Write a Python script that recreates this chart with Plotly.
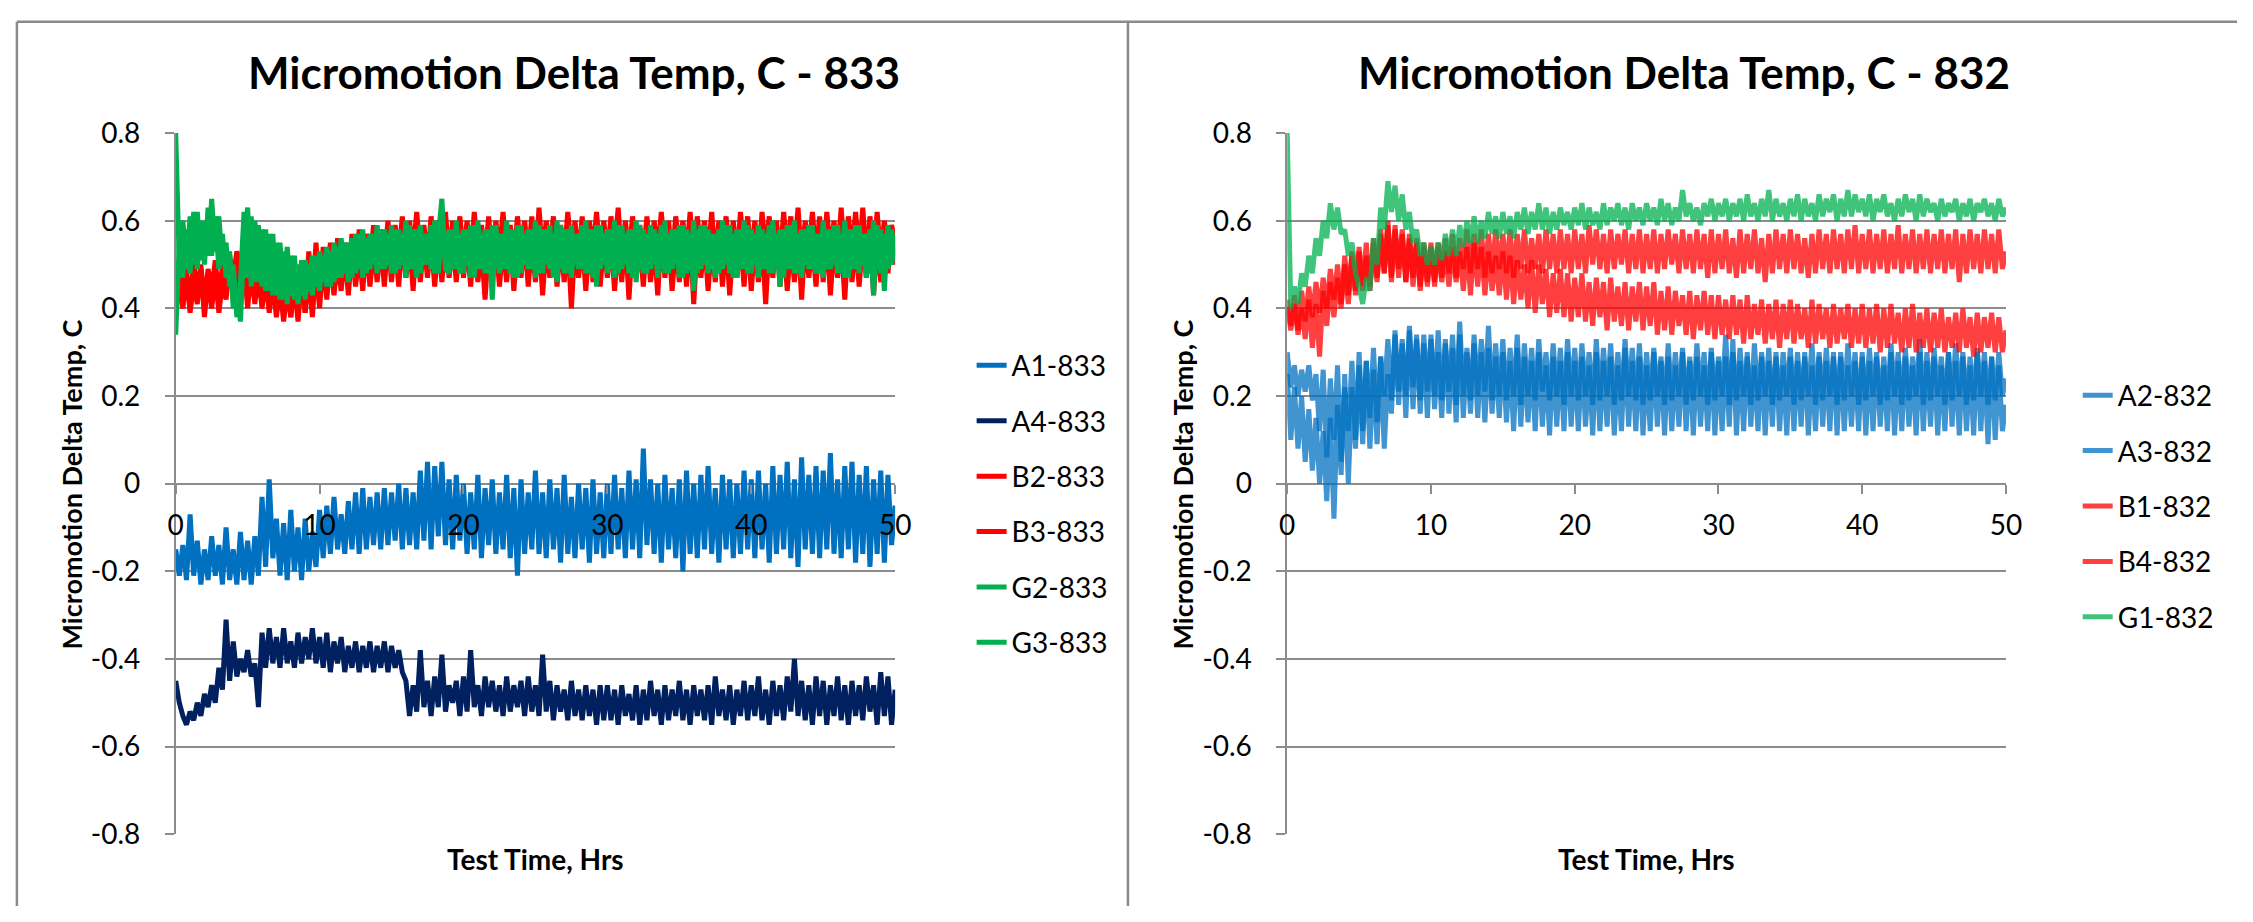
import plotly.graph_objects as go

W, H = 2253, 922

# ---------------- data ----------------
time_hrs = [i * 0.25 for i in range(201)]  # 0 .. 50 hrs, 0.25 h sampling

a1_833 = [
    -0.15,-0.21,-0.14,-0.22,-0.07,-0.21,-0.13,-0.23,-0.15,-0.22,-0.12,-0.21,-0.14,-0.23,-0.10,-0.22,-0.15,-0.23,-0.11,-0.22,
    -0.13,-0.23,-0.12,-0.21,-0.03,-0.19,0.01,-0.17,-0.08,-0.21,-0.09,-0.22,-0.06,-0.20,-0.10,-0.22,-0.08,-0.20,-0.11,-0.19,
    -0.06,-0.17,-0.05,-0.16,-0.03,-0.15,-0.07,-0.16,-0.04,-0.15,-0.02,-0.16,-0.01,-0.15,-0.03,-0.14,-0.02,-0.15,-0.01,-0.14,
    -0.02,-0.13,0.00,-0.15,-0.01,-0.14,-0.02,-0.15,0.03,-0.13,0.05,-0.15,0.04,-0.12,0.05,-0.14,0.01,-0.15,0.02,-0.13,
    0.00,-0.16,-0.02,-0.15,0.02,-0.17,-0.01,-0.14,0.01,-0.16,-0.02,-0.15,0.02,-0.17,-0.01,-0.21,0.01,-0.16,-0.02,-0.15,
    0.03,-0.16,-0.02,-0.17,0.01,-0.15,-0.01,-0.18,0.02,-0.16,-0.03,-0.17,0.00,-0.15,-0.01,-0.18,0.01,-0.16,-0.02,-0.17,
    0.00,-0.16,0.02,-0.15,-0.01,-0.17,0.03,-0.15,0.01,-0.17,0.08,-0.14,0.01,-0.16,0.00,-0.18,0.02,-0.15,-0.01,-0.17,
    0.01,-0.20,0.03,-0.16,0.00,-0.17,0.02,-0.15,0.04,-0.16,-0.01,-0.18,0.02,-0.15,0.01,-0.17,0.00,-0.16,0.03,-0.15,
    0.01,-0.17,0.03,-0.15,0.00,-0.18,0.04,-0.16,0.02,-0.15,0.05,-0.17,0.01,-0.19,0.06,-0.15,0.02,-0.16,0.04,-0.17,
    0.03,-0.15,0.07,-0.16,0.01,-0.17,0.04,-0.15,0.05,-0.18,0.02,-0.16,0.04,-0.19,0.01,-0.16,0.03,-0.18,0.02,-0.14,
    -0.05]

a4_833 = [
    -0.45,-0.50,-0.53,-0.55,-0.52,-0.54,-0.50,-0.53,-0.48,-0.51,-0.46,-0.50,-0.42,-0.47,-0.31,-0.45,-0.36,-0.44,-0.40,-0.43,
    -0.38,-0.44,-0.41,-0.51,-0.34,-0.42,-0.33,-0.41,-0.35,-0.42,-0.33,-0.41,-0.36,-0.42,-0.34,-0.41,-0.35,-0.40,-0.33,-0.41,
    -0.35,-0.42,-0.34,-0.43,-0.36,-0.41,-0.35,-0.43,-0.37,-0.42,-0.36,-0.43,-0.37,-0.42,-0.36,-0.43,-0.37,-0.42,-0.36,-0.43,
    -0.37,-0.42,-0.38,-0.43,-0.45,-0.53,-0.46,-0.52,-0.38,-0.51,-0.45,-0.53,-0.44,-0.51,-0.39,-0.52,-0.46,-0.50,-0.45,-0.53,
    -0.44,-0.52,-0.38,-0.51,-0.46,-0.53,-0.44,-0.51,-0.45,-0.52,-0.46,-0.53,-0.44,-0.52,-0.46,-0.51,-0.45,-0.53,-0.44,-0.52,
    -0.46,-0.53,-0.39,-0.52,-0.45,-0.54,-0.46,-0.52,-0.47,-0.54,-0.45,-0.53,-0.47,-0.54,-0.46,-0.53,-0.47,-0.55,-0.46,-0.54,
    -0.46,-0.54,-0.47,-0.55,-0.46,-0.53,-0.48,-0.54,-0.46,-0.55,-0.47,-0.54,-0.45,-0.53,-0.47,-0.55,-0.46,-0.54,-0.47,-0.53,
    -0.45,-0.54,-0.47,-0.55,-0.46,-0.53,-0.47,-0.54,-0.46,-0.55,-0.44,-0.53,-0.47,-0.54,-0.46,-0.55,-0.47,-0.53,-0.45,-0.54,
    -0.46,-0.53,-0.44,-0.54,-0.47,-0.55,-0.45,-0.53,-0.46,-0.54,-0.44,-0.52,-0.40,-0.53,-0.45,-0.54,-0.46,-0.55,-0.44,-0.53,
    -0.45,-0.55,-0.46,-0.53,-0.44,-0.54,-0.46,-0.55,-0.45,-0.53,-0.46,-0.54,-0.44,-0.52,-0.46,-0.55,-0.43,-0.53,-0.44,-0.55,
    -0.47]

b2_833 = [
    0.40,0.50,0.42,0.49,0.40,0.51,0.43,0.50,0.41,0.49,0.44,0.51,0.42,0.50,0.45,0.52,0.47,0.53,0.50,0.52,
    0.44,0.52,0.42,0.51,0.43,0.50,0.41,0.49,0.40,0.48,0.39,0.47,0.38,0.49,0.40,0.50,0.39,0.53,0.41,0.55,
    0.43,0.54,0.45,0.55,0.44,0.56,0.46,0.55,0.47,0.57,0.48,0.58,0.49,0.57,0.50,0.59,0.50,0.58,0.51,0.60,
    0.51,0.59,0.52,0.61,0.51,0.60,0.53,0.62,0.52,0.59,0.51,0.61,0.53,0.60,0.52,0.62,0.51,0.60,0.53,0.61,
    0.52,0.60,0.51,0.62,0.53,0.59,0.52,0.61,0.51,0.60,0.53,0.62,0.52,0.59,0.51,0.61,0.53,0.60,0.52,0.61,
    0.51,0.63,0.52,0.60,0.53,0.61,0.51,0.59,0.52,0.62,0.53,0.60,0.51,0.61,0.52,0.60,0.53,0.62,0.51,0.60,
    0.52,0.61,0.53,0.63,0.51,0.60,0.52,0.61,0.53,0.59,0.52,0.61,0.51,0.60,0.53,0.62,0.52,0.60,0.51,0.61,
    0.53,0.60,0.52,0.62,0.51,0.61,0.53,0.60,0.52,0.62,0.51,0.60,0.53,0.61,0.52,0.60,0.51,0.62,0.53,0.61,
    0.52,0.60,0.51,0.62,0.53,0.61,0.52,0.60,0.51,0.62,0.53,0.61,0.52,0.63,0.51,0.60,0.53,0.62,0.52,0.61,
    0.51,0.62,0.53,0.60,0.52,0.63,0.51,0.61,0.53,0.62,0.52,0.63,0.51,0.61,0.53,0.62,0.52,0.60,0.53,0.59,
    0.55]

b3_833 = [
    0.38,0.47,0.40,0.48,0.39,0.46,0.41,0.49,0.38,0.47,0.40,0.48,0.39,0.46,0.42,0.50,0.44,0.52,0.42,0.50,
    0.40,0.49,0.41,0.48,0.40,0.47,0.39,0.46,0.38,0.45,0.37,0.44,0.38,0.46,0.37,0.47,0.39,0.48,0.38,0.50,
    0.40,0.51,0.42,0.52,0.43,0.51,0.44,0.53,0.43,0.54,0.45,0.53,0.44,0.55,0.45,0.54,0.46,0.55,0.45,0.56,
    0.46,0.55,0.45,0.56,0.47,0.55,0.44,0.57,0.46,0.55,0.47,0.56,0.45,0.55,0.46,0.57,0.47,0.55,0.46,0.56,
    0.47,0.55,0.45,0.56,0.46,0.54,0.42,0.55,0.47,0.56,0.45,0.55,0.46,0.57,0.44,0.55,0.47,0.56,0.45,0.55,
    0.46,0.56,0.43,0.55,0.47,0.57,0.45,0.55,0.46,0.56,0.40,0.55,0.47,0.56,0.44,0.55,0.46,0.57,0.45,0.55,
    0.47,0.56,0.44,0.55,0.46,0.57,0.42,0.56,0.47,0.55,0.45,0.56,0.46,0.55,0.43,0.57,0.47,0.56,0.44,0.55,
    0.46,0.56,0.45,0.57,0.41,0.55,0.47,0.56,0.44,0.55,0.46,0.57,0.45,0.56,0.43,0.55,0.47,0.56,0.45,0.57,
    0.44,0.55,0.46,0.56,0.41,0.55,0.47,0.57,0.45,0.56,0.44,0.55,0.46,0.57,0.42,0.56,0.47,0.55,0.45,0.56,
    0.46,0.57,0.43,0.55,0.47,0.56,0.42,0.57,0.46,0.55,0.45,0.56,0.47,0.57,0.43,0.56,0.46,0.55,0.48,0.56,
    0.50]

g2_833 = [
    0.80,0.50,0.60,0.49,0.61,0.50,0.62,0.51,0.60,0.52,0.65,0.53,0.61,0.50,0.55,0.45,0.50,0.38,0.46,0.62,
    0.47,0.61,0.46,0.59,0.45,0.58,0.44,0.57,0.43,0.55,0.42,0.54,0.43,0.52,0.41,0.51,0.42,0.50,0.43,0.52,
    0.44,0.52,0.45,0.53,0.46,0.54,0.47,0.55,0.46,0.56,0.48,0.57,0.47,0.56,0.49,0.57,0.48,0.58,0.49,0.57,
    0.48,0.58,0.49,0.57,0.47,0.59,0.49,0.58,0.48,0.57,0.50,0.59,0.48,0.58,0.65,0.49,0.48,0.58,0.49,0.57,
    0.48,0.58,0.47,0.59,0.49,0.57,0.48,0.58,0.42,0.59,0.48,0.57,0.49,0.58,0.47,0.59,0.48,0.57,0.49,0.58,
    0.47,0.59,0.48,0.58,0.49,0.57,0.46,0.59,0.48,0.58,0.47,0.57,0.49,0.59,0.48,0.58,0.47,0.59,0.49,0.57,
    0.48,0.58,0.47,0.59,0.49,0.57,0.48,0.58,0.46,0.59,0.48,0.57,0.49,0.58,0.47,0.59,0.48,0.57,0.49,0.58,
    0.47,0.59,0.48,0.57,0.44,0.58,0.49,0.59,0.48,0.57,0.47,0.58,0.49,0.59,0.48,0.57,0.47,0.58,0.49,0.59,
    0.48,0.57,0.47,0.58,0.49,0.59,0.48,0.57,0.45,0.58,0.49,0.59,0.48,0.57,0.47,0.58,0.49,0.59,0.48,0.57,
    0.47,0.58,0.49,0.59,0.48,0.57,0.47,0.58,0.49,0.59,0.48,0.57,0.47,0.58,0.43,0.59,0.48,0.57,0.49,0.58,
    0.52]

g3_833 = [
    0.34,0.55,0.47,0.58,0.48,0.62,0.49,0.60,0.50,0.63,0.52,0.61,0.49,0.57,0.47,0.53,0.40,0.44,0.37,0.55,
    0.63,0.45,0.60,0.46,0.58,0.44,0.57,0.43,0.55,0.42,0.53,0.41,0.52,0.42,0.50,0.43,0.51,0.44,0.52,0.45,
    0.53,0.46,0.54,0.45,0.55,0.47,0.56,0.48,0.55,0.47,0.57,0.49,0.58,0.48,0.57,0.50,0.59,0.49,0.58,0.50,
    0.59,0.48,0.58,0.50,0.60,0.49,0.58,0.47,0.59,0.50,0.57,0.49,0.60,0.48,0.59,0.50,0.58,0.49,0.60,0.48,
    0.58,0.50,0.59,0.47,0.60,0.49,0.58,0.48,0.59,0.50,0.57,0.49,0.60,0.48,0.58,0.47,0.59,0.50,0.58,0.49,
    0.60,0.48,0.58,0.50,0.59,0.47,0.60,0.49,0.58,0.48,0.59,0.50,0.57,0.49,0.60,0.48,0.58,0.45,0.59,0.50,
    0.58,0.49,0.60,0.48,0.59,0.50,0.58,0.47,0.60,0.49,0.58,0.48,0.59,0.50,0.57,0.49,0.60,0.48,0.58,0.50,
    0.59,0.47,0.58,0.49,0.60,0.48,0.59,0.50,0.58,0.49,0.57,0.48,0.60,0.50,0.59,0.47,0.58,0.49,0.60,0.48,
    0.58,0.50,0.59,0.49,0.57,0.48,0.60,0.50,0.58,0.47,0.59,0.49,0.60,0.48,0.58,0.50,0.59,0.49,0.57,0.48,
    0.60,0.49,0.58,0.50,0.59,0.48,0.60,0.47,0.58,0.49,0.59,0.50,0.57,0.48,0.60,0.49,0.58,0.44,0.59,0.50,
    0.55]

a2_832 = [
    0.30,0.22,0.27,0.20,0.26,0.21,0.27,0.19,0.25,0.12,0.26,0.06,0.24,0.10,0.27,0.05,0.22,0.12,0.28,0.10,
    0.30,0.12,0.28,0.15,0.31,0.14,0.29,0.20,0.33,0.19,0.34,0.21,0.32,0.20,0.35,0.22,0.33,0.19,0.34,0.21,
    0.33,0.20,0.35,0.19,0.32,0.21,0.34,0.18,0.37,0.20,0.31,0.19,0.34,0.20,0.33,0.21,0.36,0.19,0.32,0.20,
    0.33,0.19,0.31,0.20,0.34,0.18,0.32,0.20,0.31,0.19,0.33,0.21,0.30,0.19,0.32,0.20,0.31,0.18,0.33,0.20,
    0.31,0.19,0.32,0.20,0.30,0.18,0.33,0.19,0.31,0.20,0.32,0.18,0.30,0.19,0.33,0.20,0.31,0.19,0.32,0.18,
    0.30,0.19,0.31,0.20,0.29,0.18,0.32,0.19,0.30,0.20,0.31,0.18,0.29,0.19,0.32,0.20,0.30,0.18,0.31,0.19,
    0.29,0.20,0.34,0.18,0.30,0.19,0.31,0.20,0.29,0.18,0.32,0.19,0.30,0.20,0.31,0.18,0.29,0.19,0.30,0.20,
    0.31,0.18,0.30,0.19,0.29,0.20,0.32,0.18,0.30,0.19,0.31,0.20,0.29,0.18,0.30,0.19,0.32,0.20,0.30,0.18,
    0.29,0.19,0.31,0.20,0.30,0.18,0.29,0.19,0.32,0.20,0.30,0.18,0.31,0.19,0.29,0.20,0.33,0.18,0.30,0.19,
    0.31,0.20,0.29,0.18,0.30,0.19,0.32,0.20,0.30,0.18,0.29,0.19,0.31,0.20,0.30,0.18,0.29,0.19,0.30,0.20,
    0.24]

a3_832 = [
    0.25,0.10,0.22,0.08,0.20,0.05,0.17,0.03,0.15,0.00,0.12,-0.04,0.15,-0.08,0.18,0.02,0.25,0.00,0.22,0.08,
    0.27,0.09,0.28,0.08,0.26,0.09,0.29,0.08,0.25,0.16,0.35,0.18,0.33,0.15,0.36,0.17,0.34,0.16,0.32,0.15,
    0.34,0.17,0.30,0.15,0.33,0.16,0.31,0.14,0.34,0.15,0.30,0.16,0.32,0.15,0.30,0.14,0.31,0.16,0.29,0.15,
    0.30,0.14,0.28,0.12,0.31,0.13,0.29,0.14,0.28,0.12,0.30,0.13,0.27,0.11,0.29,0.13,0.28,0.12,0.30,0.13,
    0.28,0.12,0.29,0.13,0.27,0.11,0.30,0.12,0.28,0.13,0.29,0.11,0.27,0.12,0.31,0.13,0.28,0.12,0.29,0.11,
    0.27,0.12,0.30,0.13,0.28,0.11,0.29,0.12,0.27,0.13,0.30,0.12,0.28,0.11,0.29,0.13,0.27,0.12,0.30,0.11,
    0.28,0.12,0.29,0.13,0.33,0.11,0.28,0.12,0.30,0.13,0.27,0.12,0.29,0.11,0.28,0.13,0.30,0.12,0.27,0.11,
    0.29,0.12,0.28,0.13,0.30,0.11,0.27,0.12,0.29,0.13,0.28,0.12,0.30,0.11,0.29,0.12,0.27,0.13,0.28,0.12,
    0.30,0.11,0.28,0.12,0.29,0.13,0.27,0.12,0.30,0.11,0.28,0.12,0.29,0.13,0.27,0.11,0.30,0.12,0.28,0.13,
    0.29,0.11,0.27,0.12,0.30,0.13,0.28,0.11,0.29,0.12,0.27,0.11,0.30,0.12,0.28,0.09,0.29,0.10,0.27,0.12,
    0.18]

b1_832 = [
    0.42,0.36,0.43,0.35,0.44,0.37,0.45,0.38,0.46,0.39,0.47,0.40,0.49,0.42,0.50,0.41,0.52,0.43,0.53,0.44,
    0.54,0.45,0.55,0.44,0.56,0.47,0.58,0.48,0.60,0.47,0.59,0.49,0.58,0.46,0.57,0.47,0.56,0.45,0.55,0.46,
    0.54,0.46,0.55,0.47,0.56,0.48,0.57,0.47,0.56,0.49,0.58,0.48,0.57,0.49,0.58,0.47,0.57,0.48,0.58,0.49,
    0.57,0.48,0.58,0.47,0.57,0.49,0.58,0.48,0.56,0.49,0.57,0.48,0.58,0.49,0.57,0.48,0.58,0.49,0.57,0.48,
    0.58,0.49,0.57,0.48,0.59,0.50,0.58,0.49,0.57,0.48,0.58,0.49,0.57,0.50,0.58,0.48,0.57,0.49,0.58,0.48,
    0.57,0.49,0.58,0.48,0.57,0.49,0.58,0.50,0.57,0.48,0.58,0.49,0.57,0.48,0.58,0.49,0.57,0.47,0.58,0.48,
    0.57,0.49,0.58,0.48,0.56,0.47,0.58,0.48,0.57,0.49,0.58,0.48,0.56,0.46,0.57,0.48,0.58,0.49,0.57,0.48,
    0.58,0.49,0.57,0.48,0.56,0.47,0.57,0.48,0.58,0.49,0.57,0.48,0.58,0.49,0.57,0.48,0.58,0.49,0.59,0.48,
    0.57,0.49,0.58,0.48,0.57,0.49,0.58,0.48,0.57,0.49,0.59,0.48,0.57,0.49,0.58,0.48,0.57,0.49,0.58,0.48,
    0.57,0.49,0.58,0.48,0.57,0.49,0.58,0.46,0.57,0.48,0.58,0.49,0.57,0.48,0.58,0.49,0.57,0.48,0.58,0.49,
    0.53]

b4_832 = [
    0.40,0.35,0.41,0.34,0.40,0.33,0.42,0.31,0.41,0.29,0.44,0.36,0.46,0.38,0.47,0.40,0.50,0.41,0.52,0.43,
    0.53,0.44,0.52,0.45,0.55,0.46,0.57,0.48,0.59,0.46,0.58,0.47,0.57,0.46,0.56,0.45,0.55,0.44,0.54,0.45,
    0.55,0.45,0.54,0.46,0.53,0.45,0.54,0.46,0.53,0.44,0.54,0.43,0.55,0.45,0.54,0.43,0.53,0.44,0.52,0.43,
    0.53,0.42,0.52,0.41,0.51,0.42,0.50,0.40,0.51,0.39,0.50,0.41,0.49,0.38,0.48,0.39,0.49,0.38,0.48,0.37,
    0.47,0.38,0.48,0.37,0.46,0.36,0.47,0.38,0.46,0.35,0.47,0.37,0.45,0.36,0.46,0.35,0.45,0.37,0.46,0.35,
    0.45,0.36,0.46,0.34,0.44,0.35,0.45,0.34,0.44,0.36,0.43,0.34,0.44,0.33,0.43,0.35,0.44,0.34,0.43,0.33,
    0.43,0.34,0.42,0.33,0.43,0.34,0.42,0.32,0.43,0.33,0.41,0.34,0.42,0.32,0.41,0.33,0.42,0.31,0.41,0.33,
    0.42,0.32,0.41,0.33,0.40,0.31,0.42,0.32,0.41,0.33,0.40,0.31,0.41,0.32,0.40,0.33,0.41,0.31,0.40,0.32,
    0.41,0.31,0.40,0.32,0.41,0.30,0.40,0.31,0.41,0.32,0.39,0.30,0.40,0.31,0.41,0.30,0.39,0.31,0.40,0.30,
    0.39,0.31,0.40,0.30,0.38,0.31,0.39,0.30,0.40,0.31,0.38,0.29,0.39,0.30,0.38,0.31,0.39,0.30,0.38,0.30,
    0.35]

g1_832 = [
    0.80,0.40,0.45,0.41,0.48,0.45,0.52,0.48,0.56,0.52,0.60,0.56,0.64,0.58,0.63,0.57,0.58,0.52,0.55,0.48,
    0.45,0.41,0.47,0.44,0.56,0.50,0.63,0.58,0.69,0.62,0.68,0.60,0.66,0.58,0.62,0.55,0.58,0.52,0.55,0.50,
    0.54,0.50,0.55,0.51,0.57,0.52,0.58,0.52,0.59,0.54,0.60,0.55,0.61,0.55,0.60,0.56,0.62,0.57,0.61,0.56,
    0.62,0.57,0.61,0.56,0.62,0.58,0.63,0.57,0.62,0.58,0.64,0.58,0.63,0.57,0.62,0.58,0.63,0.59,0.62,0.58,
    0.63,0.59,0.64,0.58,0.63,0.59,0.62,0.58,0.64,0.59,0.63,0.60,0.64,0.59,0.63,0.58,0.64,0.60,0.63,0.59,
    0.64,0.60,0.63,0.59,0.65,0.60,0.64,0.59,0.63,0.60,0.67,0.61,0.64,0.60,0.63,0.59,0.64,0.61,0.65,0.60,
    0.64,0.61,0.65,0.60,0.64,0.61,0.65,0.60,0.66,0.61,0.64,0.60,0.65,0.61,0.67,0.60,0.65,0.61,0.64,0.60,
    0.65,0.61,0.66,0.60,0.65,0.61,0.64,0.60,0.66,0.61,0.65,0.62,0.66,0.60,0.65,0.61,0.67,0.61,0.66,0.62,
    0.65,0.61,0.66,0.60,0.65,0.62,0.66,0.61,0.64,0.60,0.65,0.61,0.66,0.62,0.65,0.60,0.66,0.61,0.65,0.62,
    0.64,0.60,0.65,0.61,0.64,0.62,0.65,0.60,0.64,0.61,0.65,0.60,0.64,0.62,0.65,0.61,0.64,0.60,0.65,0.61,
    0.63]

series_833 = ["A1-833", "A4-833", "B2-833", "B3-833", "G2-833", "G3-833"]
series_832 = ["A2-832", "A3-832", "B1-832", "B4-832", "G1-832"]

y_tick_vals = [0.8, 0.6, 0.4, 0.2, 0.0, -0.2, -0.4, -0.6, -0.8]
y_tick_text = ["0.8", "0.6", "0.4", "0.2", "0", "-0.2", "-0.4", "-0.6", "-0.8"]
x_tick_vals = [0, 10, 20, 30, 40, 50]
x_tick_text = ["0", "10", "20", "30", "40", "50"]

titles = ["Micromotion Delta Temp, C - 833", "Micromotion Delta Temp, C - 832"]
y_title = "Micromotion Delta Temp, C"
x_title = "Test Time, Hrs"

# ---------------- styling ----------------
FONT = "Lato, 'Open Sans', sans-serif"
BLUE, NAVY, RED, GREEN = "#0070C0", "#002060", "#FF0000", "#00B050"
GRID = "#8C8C8C"
LW = 5

fig = go.Figure()

left = [(a1_833, BLUE), (a4_833, NAVY), (b2_833, RED), (b3_833, RED), (g2_833, GREEN), (g3_833, GREEN)]
for name, (vals, col) in zip(series_833, left):
    fig.add_trace(go.Scatter(x=time_hrs, y=vals, mode="lines", name=name,
                             line=dict(color=col, width=LW), legendgroup=name,
                             legend="legend", xaxis="x", yaxis="y"))

right = [(a2_832, BLUE), (a3_832, BLUE), (b1_832, RED), (b4_832, RED), (g1_832, GREEN)]
for name, (vals, col) in zip(series_832, right):
    fig.add_trace(go.Scatter(x=time_hrs, y=vals, mode="lines", name=name, opacity=0.75,
                             line=dict(color=col, width=LW), legendgroup=name,
                             legend="legend2", xaxis="x2", yaxis="y2"))

# plot-area geometry (paper fractions)
yd = [1 - 847.5 / H, 1 - 119.5 / H]
xd1 = [169.5 / W, 896.7 / W]
xd2 = [1293.0 / W, 2019.5 / W]
ymid = (yd[0] + yd[1]) / 2

def xaxis_cfg(domain):
    return dict(domain=domain, range=[0, 50], anchor="free", position=ymid,
                showline=False, showgrid=False, zeroline=False,
                ticks="outside", ticklen=9, tickwidth=1.5, tickcolor=GRID,
                tickvals=x_tick_vals, ticktext=x_tick_text, ticklabelstandoff=8,
                tickfont=dict(family=FONT, size=28, color="black"))

def yaxis_cfg(xref):
    return dict(domain=yd, range=[-0.8, 0.8], anchor=xref,
                showline=True, linecolor=GRID, linewidth=1.5,
                showgrid=True, gridcolor=GRID, gridwidth=1.5, zeroline=False,
                ticks="outside", ticklen=9, tickwidth=1.5, tickcolor=GRID,
                tickvals=y_tick_vals, ticktext=y_tick_text, ticklabelstandoff=19,
                tickfont=dict(family=FONT, size=28, color="black"))

legend_common = dict(font=dict(family=FONT, size=28, color="black"), bgcolor="rgba(0,0,0,0)",
                     borderwidth=0, tracegroupgap=16, xanchor="left", yanchor="top",
                     itemwidth=30)

def ann(text, x, y, size, angle=0):
    return dict(text=text, x=x / W, y=1 - y / H, xref="paper", yref="paper", showarrow=False,
                textangle=angle, xanchor="center", yanchor="middle",
                font=dict(family=FONT, size=size, weight="bold", color="black"))

annotations = [
    ann(titles[0], 572, 56, 44), ann(titles[1], 1694, 56, 44),
    ann(y_title, 64, 484, 27, -90), ann(y_title, 1187, 484, 27, -90),
    ann(x_title, 533, 873, 28), ann(x_title, 1656, 873, 28),
]

border = dict(color="#8A8A8A", width=2.5)
shapes = [
    dict(type="line", xref="paper", yref="paper", x0=9 / W, x1=1, y0=1 - 4 / H, y1=1 - 4 / H, line=border),
    dict(type="line", xref="paper", yref="paper", x0=9 / W, x1=9 / W, y0=0, y1=1 - 4 / H, line=border),
    dict(type="line", xref="paper", yref="paper", x0=1132 / W, x1=1132 / W, y0=0, y1=1 - 4 / H, line=border),
]

fig.update_layout(
    width=W, height=H, margin=dict(l=0, r=0, t=0, b=0),
    paper_bgcolor="white", plot_bgcolor="white",
    xaxis=xaxis_cfg(xd1), yaxis=yaxis_cfg("x"),
    xaxis2=xaxis_cfg(xd2), yaxis2=yaxis_cfg("x2"),
    legend=dict(x=974 / W, y=1 - 335 / H, **legend_common),
    legend2=dict(x=2092 / W, y=1 - 366 / H, **legend_common),
    annotations=annotations, shapes=shapes,
    showlegend=True, hovermode=False,
)

fig.write_html("out.html")
